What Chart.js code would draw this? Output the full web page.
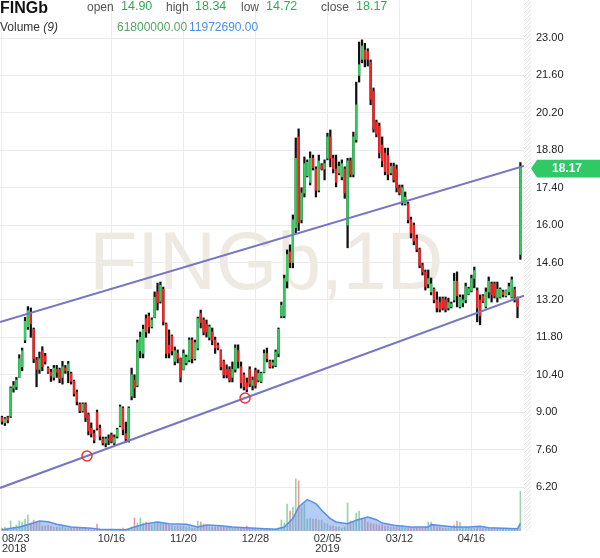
<!DOCTYPE html>
<html>
<head>
<meta charset="utf-8">
<script src="https://cdn.jsdelivr.net/npm/chart.js@4.4.1/dist/chart.umd.min.js"></script>
<style>
  html, body { margin: 0; padding: 0; background: #fff; }
</style>
</head>
<body>
<canvas id="c" width="600" height="558"></canvas>
<script>
// Datos (velas diarias, índice 0 = 08/23/2018)
const ticker = "FINGb";
const watermark = "FINGb,1D";

const openP = [
  8.80,8.60,8.80,8.85,9.90,9.95,10.30,10.70,11.70,12.20,
  12.70,12.10,10.95,10.60,11.30,11.10,10.65,10.50,10.30,10.60,
  10.60,10.30,10.65,10.55,10.45,10.15,9.75,9.30,9.05,9.30,
  8.90,8.40,8.20,9.00,8.40,8.00,7.85,8.00,8.15,7.85,
  8.10,8.50,9.15,8.20,7.95,9.60,10.20,10.00,11.30,11.20,
  12.50,12.60,12.20,12.55,13.50,13.15,13.60,12.30,11.50,11.85,
  10.90,11.20,11.00,10.60,10.85,10.95,11.70,11.00,11.40,12.70,
  12.45,12.30,11.80,12.00,11.70,11.50,11.30,10.90,10.60,10.60,
  10.30,10.60,11.30,10.70,10.40,10.10,10.60,10.00,10.55,10.20,
  10.15,10.50,11.20,10.90,10.75,10.75,11.20,12.60,12.60,13.90,
  15.00,14.60,15.90,19.30,16.20,17.20,17.85,17.60,18.50,18.10,
  17.30,18.25,18.10,18.50,19.30,18.50,18.10,17.95,17.80,18.10,
  16.00,18.40,17.90,19.20,21.60,22.20,22.55,22.50,22.10,21.00,
  19.85,19.70,19.00,18.70,18.60,17.95,18.20,18.10,17.40,16.90,
  16.80,16.80,16.20,16.00,15.50,15.10,14.50,14.25,13.80,13.50,
  13.60,13.20,13.10,13.25,13.20,12.90,12.95,13.20,13.90,12.95,
  13.10,13.20,13.42,13.55,14.00,13.55,13.20,13.35,12.95,13.50,
  13.80,13.80,13.30,13.30,13.50,13.35,13.50,13.30,13.60,13.25,
  14.90
];
const highP = [
  8.85,8.80,8.85,9.95,10.15,10.30,11.15,11.40,12.55,12.95,
  12.90,12.15,11.05,11.25,11.45,11.20,10.70,10.60,10.75,10.75,
  10.65,10.90,10.75,10.90,10.50,10.20,9.83,9.35,9.35,9.35,
  8.97,8.60,8.33,9.08,8.52,8.07,8.07,8.15,8.22,8.15,
  8.40,9.27,9.20,8.63,9.20,10.65,10.40,11.70,12.00,12.26,
  12.64,12.71,12.53,13.50,13.83,13.87,13.68,12.34,12.08,11.89,
  11.44,11.33,11.03,11.33,11.14,11.78,11.78,11.70,12.56,12.82,
  12.53,12.45,12.26,12.15,11.81,11.59,11.33,10.95,10.77,10.70,
  10.88,11.52,11.52,10.88,10.47,10.28,10.70,10.32,10.65,10.58,
  10.50,11.33,11.40,10.95,10.95,11.33,12.15,13.12,14.13,15.07,
  15.26,16.38,19.26,19.60,17.40,18.55,18.44,18.74,18.62,18.18,
  18.62,18.30,18.44,19.44,19.56,18.62,18.62,18.36,18.44,18.18,
  18.50,18.51,19.48,21.35,22.85,22.93,22.80,22.60,22.18,21.13,
  19.93,19.82,19.30,18.88,18.88,18.32,18.32,18.25,17.50,17.50,
  17.24,16.86,16.30,16.08,15.63,15.14,14.58,14.32,14.32,14.02,
  13.65,13.50,13.31,13.31,13.31,13.27,13.12,14.20,14.25,13.39,
  13.39,13.83,13.68,14.13,14.43,13.65,13.39,13.40,13.65,14.06,
  13.87,13.87,13.87,13.65,13.57,13.57,13.83,14.06,13.68,13.31,
  18.34
];
const lowP = [
  8.55,8.50,8.60,8.80,9.75,9.85,10.30,10.55,11.60,12.10,
  11.80,10.85,9.95,10.45,10.55,10.80,10.45,10.15,10.20,10.30,
  10.10,10.05,10.45,10.10,10.05,9.60,9.27,8.98,9.00,8.65,
  8.15,8.07,7.85,8.33,7.96,7.77,7.70,7.78,7.85,7.78,
  8.03,8.45,8.15,7.88,7.88,9.46,9.54,9.95,11.03,11.03,
  11.80,11.96,12.15,12.53,12.82,13.08,12.26,11.03,11.03,11.14,
  10.77,10.84,10.13,10.58,10.77,10.88,10.84,10.95,11.33,12.15,
  11.89,11.81,11.70,11.52,11.20,11.33,10.58,10.28,10.28,10.13,
  10.13,10.50,10.65,9.90,9.83,9.76,9.95,9.83,9.90,10.13,
  10.10,10.47,10.88,10.65,10.65,10.70,11.07,12.53,12.53,13.65,
  14.40,14.40,15.70,15.80,16.08,17.05,17.80,17.50,18.06,17.05,
  17.24,18.06,17.69,18.44,18.18,17.95,17.43,17.88,17.69,17.00,
  15.15,17.80,17.80,19.10,21.35,22.07,21.92,21.95,20.50,19.48,
  19.30,18.51,18.18,17.88,17.69,17.88,17.61,17.24,17.13,16.75,
  16.75,16.08,15.52,15.26,15.00,14.40,14.13,13.57,13.65,13.39,
  13.09,12.75,12.75,12.82,12.75,12.82,12.90,13.12,12.94,12.90,
  12.94,13.09,13.39,13.50,13.65,12.38,12.27,13.10,12.90,13.27,
  13.12,13.27,13.12,13.27,13.31,13.31,13.39,13.27,13.12,12.53,
  14.72
];
const closeP = [
  8.65,8.75,8.70,9.90,10.00,10.20,11.00,11.30,12.40,12.80,
  12.30,11.00,10.60,11.00,10.70,10.90,10.50,10.35,10.65,10.50,
  10.25,10.70,10.55,10.80,10.15,9.70,9.40,9.05,9.30,8.80,
  8.30,8.20,7.95,8.40,8.10,7.85,8.00,7.95,7.90,8.05,
  8.35,9.20,8.35,8.00,9.15,10.40,9.90,11.60,11.80,12.10,
  12.00,12.20,12.45,13.30,13.10,13.75,12.40,11.20,11.20,11.30,
  11.30,11.00,10.30,11.20,11.05,11.70,11.00,11.60,12.50,12.35,
  12.00,12.00,12.20,11.70,11.40,11.40,10.70,10.40,10.40,10.20,
  10.60,11.40,10.90,10.10,9.95,9.85,10.05,10.20,10.00,10.45,
  10.45,11.20,11.00,10.70,10.85,11.25,12.10,13.00,14.00,14.90,
  14.60,16.20,18.50,16.10,17.20,18.30,18.35,18.50,18.15,17.30,
  18.40,18.10,18.30,19.30,18.50,18.10,17.60,18.20,18.30,17.20,
  18.40,17.90,19.30,20.50,22.00,22.70,22.20,22.20,20.70,19.60,
  19.40,18.70,18.40,18.00,17.90,18.20,17.70,17.40,17.20,17.40,
  17.05,16.20,15.70,15.40,15.10,14.50,14.25,13.70,14.00,13.80,
  13.20,12.90,12.85,12.90,12.85,13.10,13.05,13.90,13.35,13.30,
  13.20,13.70,13.62,14.00,14.30,12.90,12.60,13.15,13.50,13.90,
  13.40,13.35,13.60,13.60,13.40,13.55,13.70,13.95,13.30,12.95,
  18.17
];
// Volumen en millones
const volM = [
  4.7,6.2,4.7,15.6,6.2,9.3,15.6,14.0,18.7,24.9,
  12.4,17.1,14.0,14.0,7.8,7.8,9.3,7.8,6.2,6.2,
  6.2,7.8,4.7,4.7,4.7,4.7,4.7,4.7,4.7,4.7,
  3.1,1.6,1.6,10.9,1.6,1.6,1.6,1.6,1.6,1.6,
  1.6,3.1,4.7,3.1,3.1,6.2,20.2,12.4,20.2,12.4,
  14.0,10.9,9.3,12.4,14.0,12.4,10.9,10.9,9.3,9.3,
  7.8,7.8,7.8,7.8,6.2,6.2,4.7,4.7,15.6,14.0,
  10.9,7.8,6.2,6.2,6.2,6.2,6.2,6.2,6.2,6.2,
  4.7,6.2,4.7,4.7,4.7,7.8,4.7,4.7,4.7,3.1,
  3.1,3.1,3.1,3.1,3.1,3.1,4.7,17.1,12.4,42.0,
  31.1,37.3,80.9,77.8,37.3,42.0,18.7,20.2,18.7,18.7,
  17.1,17.1,12.4,10.9,7.8,7.8,6.2,6.2,4.7,6.2,
  43.6,15.6,14.0,28.0,31.1,18.7,18.7,14.0,12.4,10.9,
  10.9,9.3,9.3,7.8,7.8,6.2,6.2,6.2,6.2,6.2,
  4.7,4.7,4.7,4.7,4.7,4.7,4.7,6.2,14.0,14.0,
  7.8,6.2,6.2,4.7,4.7,4.7,4.7,9.3,15.6,14.0,
  4.7,4.7,4.7,4.7,4.7,6.2,6.2,4.7,4.7,4.7,
  4.7,4.7,3.1,3.1,3.1,3.1,3.1,3.1,3.1,3.1,
  61.8
];
// Media del volumen (9), leída por tramos
const maIdx = [0,6,10,13,16,19,24,31,34,43,46,50,54,58,64,68,71,76,80,88,95,98,101,103,106,109,111,114,116,120,123,127,130,132,136,142,148,149,153,157,162,166,169,179,180];
const maVol = [2.0,6.2,11.4,15.6,14.5,10.4,6.2,4.1,2.6,2.1,6.2,11.4,14.0,11.4,10.4,6.2,9.3,8.3,6.2,4.1,2.6,6.2,19.2,37.3,48.7,42.5,32.2,19.2,14.0,11.4,16.6,21.8,17.6,12.4,8.8,6.2,6.2,9.9,8.3,6.2,6.2,7.3,5.2,3.6,11.97269];

// Líneas de canal (índice, precio)
const upperX = [-0.7, 181.25];
const upperY = [12.375, 18.21];
const lowerX = [-0.7, 29.5, 84.4, 181.25];
const lowerY = [6.165, 7.362, 9.532, 13.363];

// Ejes
const tickIdx = [0, 38, 63, 88, 113, 138, 163, 181];
const tickLabels = [["08/23", "2018"], "10/16", "11/20", "12/28", ["02/05", "2019"], "03/12", "04/16", ""];
const priceTicks = [6.2, 7.6, 9.0, 10.4, 11.8, 13.2, 14.6, 16.0, 17.4, 18.8, 20.2, 21.6, 23.0];

const FONT = '"Liberation Sans", Arial, sans-serif';
const GREEN = "#2fcf5b";
const RED = "#ff1f1f";
const last = closeP.length - 1;

// Armo los datos para Chart.js
const isUp = closeP.map((c, i) => c >= openP[i]);
const wicks = lowP.map((l, i) => ({ x: i, y: [l, highP[i]] }));
const bodies = openP.map((o, i) => ({ x: i, y: [o, closeP[i]] }));
const volPts = volM.map((v, i) => ({ x: i, y: v }));
const maPts = maIdx.map((x, k) => ({ x, y: maVol[k] }));
const upperPts = upperX.map((x, k) => ({ x, y: upperY[k] }));
const lowerPts = lowerX.map((x, k) => ({ x, y: lowerY[k] }));

// Fondo: marca de agua y franja rayada
const bgPlugin = {
  id: "bg",
  beforeDraw(chart) {
    const { ctx } = chart;
    ctx.save();
    ctx.font = "81px " + FONT;
    const m = ctx.measureText(watermark);
    const ink = m.actualBoundingBoxLeft + m.actualBoundingBoxRight;
    ctx.translate(95, 289);
    ctx.scale(345 / ink, 1);
    ctx.fillStyle = "#eee9e1";
    ctx.textBaseline = "alphabetic";
    ctx.fillText(watermark, m.actualBoundingBoxLeft, 0);
    ctx.restore();
  },
  beforeDatasetsDraw(chart) {
    const { ctx, chartArea: a } = chart;
    ctx.save();
    ctx.beginPath();
    ctx.rect(a.right, a.top, 7, a.bottom - a.top);
    ctx.clip();
    ctx.beginPath();
    ctx.strokeStyle = "#e4e4e4";
    ctx.lineWidth = 1;
    for (let y = a.top - 10; y < a.bottom + 10; y += 4) {
      ctx.moveTo(a.right, y + 7);
      ctx.lineTo(a.right + 7, y);
    }
    ctx.stroke();
    ctx.restore();
  }
};

// Cabecera y etiqueta del último precio
const overlayPlugin = {
  id: "overlay",
  afterDraw(chart) {
    const { ctx } = chart;
    ctx.save();
    ctx.textBaseline = "alphabetic";
    ctx.textAlign = "left";
    ctx.font = "bold 16px " + FONT;
    ctx.fillStyle = "#111";
    ctx.fillText(ticker, 0, 13);

    const items = [
      ["open", 87, openP[last], 121],
      ["high", 166, highP[last], 195],
      ["low", 241, lowP[last], 266],
      ["close", 321, closeP[last], 356]
    ];
    items.forEach(([lab, lx, val, vx]) => {
      ctx.font = "12px " + FONT;
      ctx.fillStyle = "#555";
      ctx.fillText(lab, lx, 11);
      ctx.font = "12.5px " + FONT;
      ctx.fillStyle = "#37a85a";
      ctx.fillText(val.toFixed(2), vx, 10);
    });

    ctx.font = "12px " + FONT;
    ctx.fillStyle = "#333";
    ctx.fillText("Volume", 0, 31);
    const w = ctx.measureText("Volume ").width;
    ctx.font = "italic 12px " + FONT;
    ctx.fillText("(9)", w, 31);
    ctx.font = "12px " + FONT;
    ctx.fillStyle = "#52a465";
    ctx.fillText((volM[last] * 1e6).toFixed(2), 117, 31);
    ctx.fillStyle = "#4a8fe7";
    ctx.fillText((maVol[maVol.length - 1] * 1e6).toFixed(2), 189, 31);

    const yy = chart.scales.y.getPixelForValue(closeP[last]) + 1.5;
    ctx.fillStyle = "#31c966";
    ctx.beginPath();
    ctx.moveTo(531, yy);
    ctx.lineTo(537, yy - 8.8);
    ctx.lineTo(600, yy - 8.8);
    ctx.lineTo(600, yy + 8.8);
    ctx.lineTo(537, yy + 8.8);
    ctx.closePath();
    ctx.fill();
    ctx.font = "bold 12px " + FONT;
    ctx.fillStyle = "#fff";
    ctx.textAlign = "center";
    ctx.textBaseline = "middle";
    ctx.fillText(closeP[last].toFixed(2), 567, yy + 0.5);
    ctx.restore();
  }
};

Chart.defaults.font.family = FONT;

new Chart(document.getElementById("c"), {
  type: "bar",
  data: {
    datasets: [
      {
        type: "line", data: upperPts, borderColor: "#7676c2", borderWidth: 2,
        pointRadius: 0, order: 1
      },
      {
        type: "line", data: lowerPts, borderColor: "#7676c2", borderWidth: 2,
        pointRadius: [0, 5, 5, 0], pointBorderColor: "#e8362f", pointBorderWidth: 1.5,
        pointBackgroundColor: "rgba(255,255,255,0)", order: 1
      },
      {
        data: bodies, backgroundColor: isUp.map((u) => (u ? GREEN : RED)),
        barThickness: 1.6, grouped: false, minBarLength: 1, order: 2
      },
      {
        data: wicks, backgroundColor: "#111", barThickness: 1.6, grouped: false, order: 3
      },
      {
        type: "line", data: maPts, yAxisID: "yv", fill: "origin",
        backgroundColor: "rgba(105,155,235,0.5)", borderColor: "#5a8fe4",
        borderWidth: 1.5, pointRadius: 0, order: 4
      },
      {
        data: volPts, yAxisID: "yv", barThickness: 1, grouped: false, order: 5,
        backgroundColor: isUp.map((u) => (u ? "rgba(70,175,100,0.55)" : "rgba(235,80,80,0.6)"))
      }
    ]
  },
  options: {
    responsive: false,
    animation: false,
    events: [],
    devicePixelRatio: 1,
    layout: { padding: 0 },
    plugins: { legend: { display: false }, tooltip: { enabled: false } },
    scales: {
      x: {
        type: "linear", min: -0.694, max: 181.25, offset: false,
        afterBuildTicks: (s) => { s.ticks = tickIdx.map((v) => ({ value: v })); },
        ticks: {
          autoSkip: false, maxRotation: 0, align: "inner", padding: 3, color: "#333",
          font: { size: 11, lineHeight: 0.91 },
          callback: (v) => { const k = tickIdx.indexOf(v); return k < 0 ? "" : tickLabels[k]; }
        },
        grid: {
          drawTicks: false, offset: false,
          color: (c) => (c.tick && c.tick.value > 180 ? "rgba(0,0,0,0)" : "#ececec")
        },
        border: { display: false },
        afterFit: (s) => { s.height = 27; s.paddingLeft = 0; s.paddingRight = 0; }
      },
      y: {
        position: "right", min: 4.554, max: 24.422,
        afterBuildTicks: (s) => { s.ticks = priceTicks.map((v) => ({ value: v })); },
        ticks: { padding: 12, color: "#222", font: { size: 11 }, callback: (v) => v.toFixed(2) },
        grid: { drawTicks: false, color: "#ececec" },
        border: { display: false },
        afterFit: (s) => { s.width = 76; s.paddingTop = 0; s.paddingBottom = 0; }
      },
      yv: { display: false, min: 0, max: 826 }
    }
  },
  plugins: [bgPlugin, overlayPlugin]
});
</script>
</body>
</html>
